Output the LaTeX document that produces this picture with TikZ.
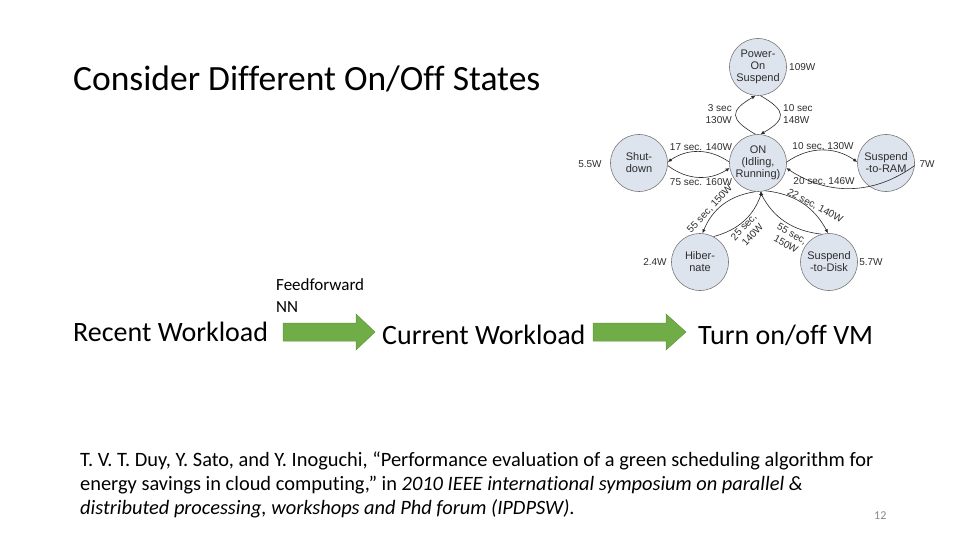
\documentclass[tikz,border=0pt]{standalone}
\usepackage{fontspec}
\setmainfont{Carlito}[Ligatures={NoCommon}]
\newfontfamily\labfont{Liberation Sans}
\usetikzlibrary{arrows.meta}
\definecolor{statefill}{RGB}{222,228,238}
\definecolor{stroke}{RGB}{120,120,120}
\definecolor{linecol}{RGB}{40,40,40}
\definecolor{labtext}{RGB}{45,45,45}
\definecolor{arrowgreen}{RGB}{112,173,71}
\definecolor{arrowedge}{RGB}{96,150,60}
\definecolor{pagenum}{RGB}{137,137,137}
\begin{document}
\begin{tikzpicture}[x=1pt,y=-1pt,
  state/.style={circle, draw=stroke, fill=statefill, minimum size=57pt, inner sep=0pt, align=center,
    font=\labfont\fontsize{11}{12}\selectfont, text=labtext, line width=0.6pt},
  elab/.style={font=\labfont\fontsize{10}{12}\selectfont, text=labtext, inner sep=0pt},
  conn/.style={draw=linecol, line width=0.6pt, -{Latex[length=4pt,width=3.5pt]}},
  greenarrow/.style={fill=arrowgreen, draw=arrowedge, line width=0.5pt},
  bigtext/.style={anchor=base west, inner sep=0pt, font=\fontsize{28}{33}\selectfont},
  cite/.style={anchor=base west, inner sep=0pt, font=\fontsize{20.4}{24}\selectfont}
]
\useasboundingbox (0,0) rectangle (960,540);

% title
\node[anchor=base west, inner sep=0pt, font=\fontsize{35.5}{42}\selectfont] (title) at (73,91) {Consider Different On/Off States};

% state diagram
\node[state] (po)  at (758,67)  {Power-\\On\\Suspend};
\node[state] (on)  at (758,163) {ON\\(Idling,\\Running)};
\node[state] (sd)  at (639,163) {Shut-\\down};
\node[state] (ram) at (886,163) {Suspend\\-to-RAM};
\node[state] (hib) at (700,262) {Hiber-\\nate};
\node[state] (dsk) at (829,262) {Suspend\\-to-Disk};

\node[elab, anchor=west] (wpo) at (789,67) {109W};
\node[elab] (wsd) at (590,164) {5.5W};
\node[elab] (wram) at (927,164) {7W};
\node[elab] (whib) at (655,262) {2.4W};
\node[elab] (wdsk) at (871,262) {5.7W};

\draw[conn] (on.95) to[out=150,in=-150,looseness=2] (po.265);
\draw[conn] (po.275) to[out=-30,in=30,looseness=2] (on.85);
\node[elab, anchor=east, align=right] (l1) at (732,114) {3 sec\\130W};
\node[elab, anchor=west, align=left] (l2) at (783,114) {10 sec\\148W};

\draw[conn] (on.178) to[bend right=35] (sd.2);
\draw[conn] (sd.-5) to[bend right=35] (on.190);
\node[elab] (l3) at (701,147) {17 sec. 140W};
\node[elab] (l4) at (701,182) {75 sec. 160W};

\draw[conn] (on.2) to[bend left=35] (ram.178);
\draw[conn] (ram.-5) to[bend left=35] (on.-10);
\node[elab] (l5) at (823,147) {10 sec, 130W};
\node[elab] (l6) at (824,182) {20 sec, 146W};

\draw[conn] (on.-95) to[bend right=30] (hib.85);
\draw[conn] (hib.62) to[bend right=28] (on.-82);
\node[elab, rotate=47] (l7) at (710,209) {55 sec, 150W};
\node[elab, rotate=47, align=center] (l8) at (748,231) {25 sec,\\140W};

\draw[conn] (on.-75) to[bend left=28] (dsk.92);
\draw[conn] (dsk.105) to[bend left=28] (on.-86);
\node[elab, rotate=-28] (l9) at (815,206) {22 sec, 140W};
\node[elab, rotate=-30, align=center] (l10) at (789,239) {55 sec,\\150W};

% workflow
\node[bigtext] (recent) at (73,341) {Recent Workload};
\node[anchor=base west, inner sep=0pt, font=\fontsize{17}{22}\selectfont, align=left] (ffnn) at (276,312) {Feedforward\\NN};
\filldraw[greenarrow] (283,323) -- (356,323) -- (356,314) -- (375,332) -- (356,350) -- (356,341) -- (283,341) -- cycle;
\node[bigtext] (current) at (382,344) {Current Workload};
\filldraw[greenarrow] (593,323) -- (666,323) -- (666,314) -- (686,332) -- (666,350) -- (666,341) -- (593,341) -- cycle;
\node[bigtext] (turn) at (698,344) {Turn on/off VM};

% citation
\node[cite] (c1) at (80,466) {T. V. T. Duy, Y. Sato, and Y. Inoguchi, “Performance evaluation of a green scheduling algorithm for};
\node[cite] (c2) at (80,490) {energy savings in cloud computing,” in \textit{2010 IEEE international symposium on parallel \&}};
\node[cite] (c3) at (80,514) {\textit{distributed processing, workshops and Phd forum (IPDPSW)}.};
\node[anchor=base west, inner sep=0pt, font=\fontsize{12}{14}\selectfont, text=pagenum] (pg) at (874,519) {12};
\end{tikzpicture}
\end{document}
